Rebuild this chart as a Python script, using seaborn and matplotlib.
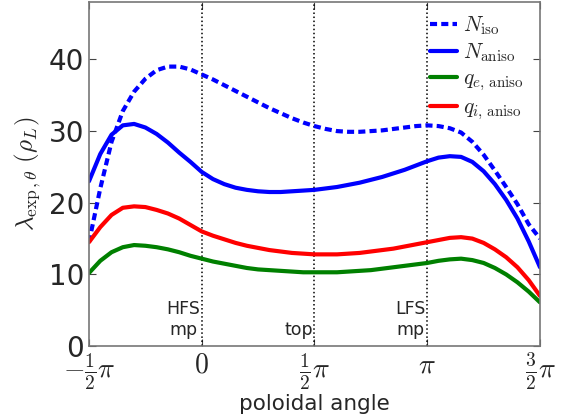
import matplotlib
matplotlib.use("Agg")
import matplotlib.pyplot as plt
import numpy as np
import pandas as pd
import seaborn as sns

# poloidal angle in units of pi, from -1/2 to 3/2 in steps of 0.05
theta = [-0.5, -0.45, -0.4, -0.35, -0.3, -0.25, -0.2, -0.15, -0.1, -0.05,
         0.0, 0.05, 0.1, 0.15, 0.2, 0.25, 0.3, 0.35, 0.4, 0.45,
         0.5, 0.55, 0.6, 0.65, 0.7, 0.75, 0.8, 0.85, 0.9, 0.95,
         1.0, 1.05, 1.1, 1.15, 1.2, 1.25, 1.3, 1.35, 1.4, 1.45, 1.5]
n_iso = [14.5, 22.0, 28.5, 32.8, 35.5, 37.3, 38.5, 39.0, 39.0, 38.6,
         37.9, 37.2, 36.4, 35.6, 34.8, 34.0, 33.2, 32.5, 31.8, 31.2,
         30.7, 30.3, 30.0, 29.9, 29.9, 30.0, 30.1, 30.3, 30.5, 30.7,
         30.8, 30.7, 30.4, 29.8, 28.5, 26.7, 24.5, 22.2, 19.8, 17.0, 15.0]
n_aniso = [23.0, 26.8, 29.5, 30.8, 31.0, 30.5, 29.6, 28.4, 27.0, 25.7,
           24.3, 23.3, 22.6, 22.1, 21.8, 21.6, 21.5, 21.5, 21.6, 21.7,
           21.8, 22.0, 22.2, 22.5, 22.8, 23.2, 23.6, 24.1, 24.6, 25.2,
           25.8, 26.3, 26.5, 26.4, 25.7, 24.4, 22.6, 20.4, 17.8, 14.6, 11.0]
qe_aniso = [10.2, 11.9, 13.1, 13.8, 14.1, 14.0, 13.8, 13.5, 13.1, 12.6,
            12.2, 11.8, 11.5, 11.2, 10.9, 10.7, 10.6, 10.5, 10.4, 10.3,
            10.3, 10.3, 10.3, 10.4, 10.5, 10.6, 10.8, 11.0, 11.2, 11.4,
            11.6, 11.9, 12.1, 12.2, 12.0, 11.6, 10.9, 10.0, 8.9, 7.6, 6.1]
qi_aniso = [14.5, 16.6, 18.3, 19.3, 19.5, 19.4, 19.0, 18.5, 17.8, 16.9,
            16.0, 15.4, 14.9, 14.4, 14.0, 13.7, 13.4, 13.2, 13.0, 12.9,
            12.8, 12.8, 12.8, 12.9, 13.0, 13.2, 13.4, 13.6, 13.9, 14.2,
            14.5, 14.8, 15.1, 15.2, 15.0, 14.4, 13.5, 12.4, 11.0, 9.2, 7.0]

xticks = [-0.5, 0.0, 0.5, 1.0, 1.5]
xticklabels = [r"$-\frac{1}{2}\pi$", r"$0$", r"$\frac{1}{2}\pi$", r"$\pi$", r"$\frac{3}{2}\pi$"]
markers = [(0.0, "HFS\nmp"), (0.5, "top"), (1.0, "LFS\nmp")]

sns.set_style("ticks")
plt.rcParams["mathtext.fontset"] = "cm"
plt.rcParams["font.family"] = ["DejaVu Sans"]

x = np.array(theta) * np.pi
df = pd.DataFrame({"x": x, "niso": n_iso, "naniso": n_aniso, "qe": qe_aniso, "qi": qi_aniso})

fig = plt.figure(figsize=(5.76, 4.18), dpi=100)
ax = fig.add_axes([0.1545, 0.172, 0.783, 0.823])

for xm, label in markers:
    ax.axvline(xm * np.pi, color="black", ls=":", lw=1.1, zorder=1)
    ax.text(xm * np.pi - 0.025, 1.0, label, ha="right", va="bottom",
            fontsize=12.5, multialignment="center", linespacing=1.2)

dash = (1.7, 1.0)
sns.lineplot(data=df, x="x", y="niso", ax=ax, color="blue", lw=3.0, label=r"$N_{\rm iso}$")
ax.lines[-1].set_dashes(dash)
sns.lineplot(data=df, x="x", y="naniso", ax=ax, color="blue", lw=3.0, label=r"$N_{\rm aniso}$")
sns.lineplot(data=df, x="x", y="qe", ax=ax, color="green", lw=3.0, label=r"$q_{e,\,\rm aniso}$")
sns.lineplot(data=df, x="x", y="qi", ax=ax, color="red", lw=3.0, label=r"$q_{i,\,\rm aniso}$")

ax.set_xlim(-0.5 * np.pi, 1.5 * np.pi)
ax.set_ylim(0, 48)
ax.set_xticks(np.array(xticks) * np.pi)
ax.set_xticklabels(xticklabels, fontsize=20)
ax.set_yticks([0, 10, 20, 30, 40])
ax.tick_params(axis="y", labelsize=20)
ax.tick_params(direction="in", top=True, right=True, length=5, color="#444444")
for sp in ax.spines.values():
    sp.set_color("#777777")
    sp.set_linewidth(1.2)
ax.set_xlabel("poloidal angle", fontsize=15.5, labelpad=1)
ax.set_ylabel(r"$\lambda_{\exp,\theta}\ (\rho_L)$", fontsize=18)

leg = ax.legend(loc="upper right", bbox_to_anchor=(0.983, 0.99), frameon=False,
                fontsize=15.5, handlelength=1.25, handletextpad=0.3,
                borderaxespad=0.0, labelspacing=0.2)
leg.get_lines()[0].set_dashes(dash)

fig.savefig("out.png", dpi=100)
